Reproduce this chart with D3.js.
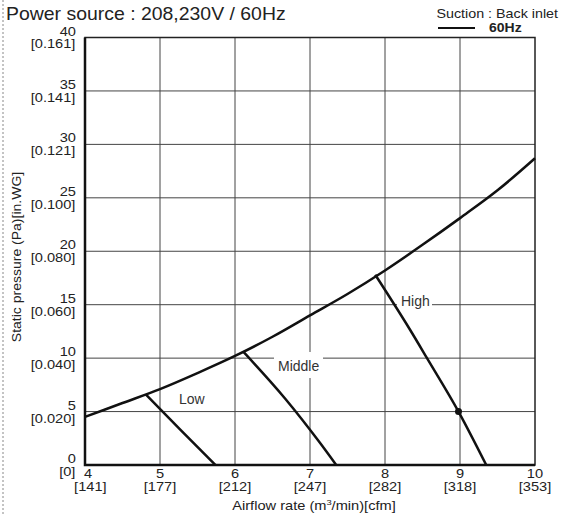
<!DOCTYPE html>
<html>
<head>
<meta charset="utf-8">
<script src="https://cdn.jsdelivr.net/npm/d3@7"></script>
<style>
  body { margin: 0; background: #fff; }
  svg { display: block; font-family: Arial, "Liberation Sans", Helvetica, sans-serif; }
</style>
</head>
<body>
<svg id="chart" width="564" height="516"></svg>
<script>
// axis ticks
const xTicks = [4, 5, 6, 7, 8, 9, 10];
const xTickCfm = ["[141]", "[177]", "[212]", "[247]", "[282]", "[318]", "[353]"];
const yTicks = [0, 5, 10, 15, 20, 25, 30, 35, 40];
const yTickInWG = ["[0]", "[0.020]", "[0.040]", "[0.060]", "[0.080]", "[0.100]", "[0.121]", "[0.141]", "[0.161]"];

// system resistance curve (m3/min, Pa)
const systemCurve = [
  [4, 4.5], [4.5, 5.8], [5, 7.1], [5.5, 8.6], [6, 10.2], [6.5, 12.0], [7, 14.0],
  [7.5, 16.0], [8, 18.2], [8.5, 20.6], [9, 23.1], [9.5, 25.7], [10, 28.7]
];

// fan curves per speed
const lowCurve = [[4.81, 6.6], [5.27, 3.3], [5.74, 0]];
const middleCurve = [[6.11, 10.6], [6.67, 6.2], [7.13, 2.1], [7.35, 0]];
const highCurve = [[7.87, 17.8], [8.33, 12.7], [8.56, 10.0], [8.98, 5.0], [9.35, 0]];
const ratedPoint = [8.98, 5.0];

const svg = d3.select("#chart");
const x = d3.scaleLinear().domain([4, 10]).range([85, 535]);
const y = d3.scaleLinear().domain([0, 40]).range([465, 37.5]);

// the original lettering is a bit wider than Arial, so stretch it horizontally
function label(parent, px, py, size, anchor, sx) {
  return parent.append("text")
    .attr("transform", `translate(${px},${py}) scale(${sx},1)`)
    .attr("font-size", size).attr("text-anchor", anchor).attr("fill", "#222");
}

// dotted page edge
svg.append("line")
  .attr("x1", 3).attr("x2", 3).attr("y1", 0).attr("y2", 516)
  .attr("stroke", "#888").attr("stroke-width", 1).attr("stroke-dasharray", "2,2");

// title + legend
label(svg, 6, 20, 18, "start", 1.08).text("Power source : 208,230V / 60Hz");
label(svg, 558, 18, 13, "end", 1.1).text("Suction : Back inlet");
svg.append("line").attr("x1", 438).attr("x2", 475).attr("y1", 28).attr("y2", 28)
  .attr("stroke", "#111").attr("stroke-width", 2);
label(svg, 489, 32, 12.5, "start", 1.12).attr("font-weight", "bold").text("60Hz");

// grid
const grid = svg.append("g").attr("stroke", "#444").attr("stroke-width", 1);
grid.selectAll(".vx").data(xTicks.slice(1, -1)).join("line")
  .attr("x1", d => x(d)).attr("x2", d => x(d))
  .attr("y1", y(0)).attr("y2", y(40));
grid.selectAll(".hy").data(yTicks.slice(1, -1)).join("line")
  .attr("x1", x(4)).attr("x2", x(10))
  .attr("y1", d => y(d)).attr("y2", d => y(d));

// white boxes behind speed labels
const labels = [
  { text: "Low", x: 179, y: 404, box: null },
  { text: "Middle", x: 278, y: 371, box: [274, 352, 49, 26] },
  { text: "High", x: 401, y: 306, box: [397, 296, 35, 14] }
];
labels.forEach(l => {
  if (l.box) svg.append("rect")
    .attr("x", l.box[0]).attr("y", l.box[1]).attr("width", l.box[2]).attr("height", l.box[3])
    .attr("fill", "#fff");
});

// frame
svg.append("rect")
  .attr("x", x(4)).attr("y", y(40))
  .attr("width", x(10) - x(4)).attr("height", y(0) - y(40))
  .attr("fill", "none").attr("stroke", "#222").attr("stroke-width", 1.5);
svg.append("path")
  .attr("d", `M${x(4)},${y(40)}V${y(0)}H${x(10)}`)
  .attr("fill", "none").attr("stroke", "#111").attr("stroke-width", 2.5);

// curves
const line = d3.line().x(d => x(d[0])).y(d => y(d[1])).curve(d3.curveMonotoneX);
svg.append("path").datum(systemCurve).attr("d", line)
  .attr("fill", "none").attr("stroke", "#111").attr("stroke-width", 2.5);
[lowCurve, middleCurve, highCurve].forEach(c => {
  svg.append("path").datum(c).attr("d", line)
    .attr("fill", "none").attr("stroke", "#111").attr("stroke-width", 2.5);
});
svg.append("circle")
  .attr("cx", x(ratedPoint[0])).attr("cy", y(ratedPoint[1])).attr("r", 3.5)
  .attr("fill", "#111");

labels.forEach(l => {
  label(svg, l.x, l.y, 14, "start", 1).attr("fill", "#333").text(l.text);
});

// y tick labels: Pa above the gridline, in.WG below
yTicks.forEach((t, i) => {
  const tx = label(svg, 76, y(t) - 2, 12.5, "end", 1.17);
  tx.append("tspan").attr("x", 0).text(t);
  tx.append("tspan").attr("x", -0.5).attr("dy", 13).text(yTickInWG[i]);
});

// x tick labels: m3/min over cfm
xTicks.forEach((t, i) => {
  const off = i === 0 ? 3 : 0;
  const tx = label(svg, x(t) + off, 478, 12.5, "middle", 1.17);
  tx.append("tspan").attr("x", 0).text(t);
  tx.append("tspan").attr("x", i === 0 ? 2 : 0).attr("dy", 13).text(xTickCfm[i]);
});

// axis titles
const xt = label(svg, 314, 510, 12.5, "middle", 1.17);
xt.append("tspan").text("Airflow rate (m");
xt.append("tspan").attr("font-size", 8).attr("dy", -5).text("3");
xt.append("tspan").attr("dy", 5).text("/min)[cfm]");

svg.append("text")
  .attr("transform", `translate(21,257) rotate(-90) scale(1.12,1)`)
  .attr("text-anchor", "middle").attr("font-size", 12.5).attr("fill", "#222")
  .text("Static pressure (Pa)[in.WG]");
</script>
</body>
</html>
